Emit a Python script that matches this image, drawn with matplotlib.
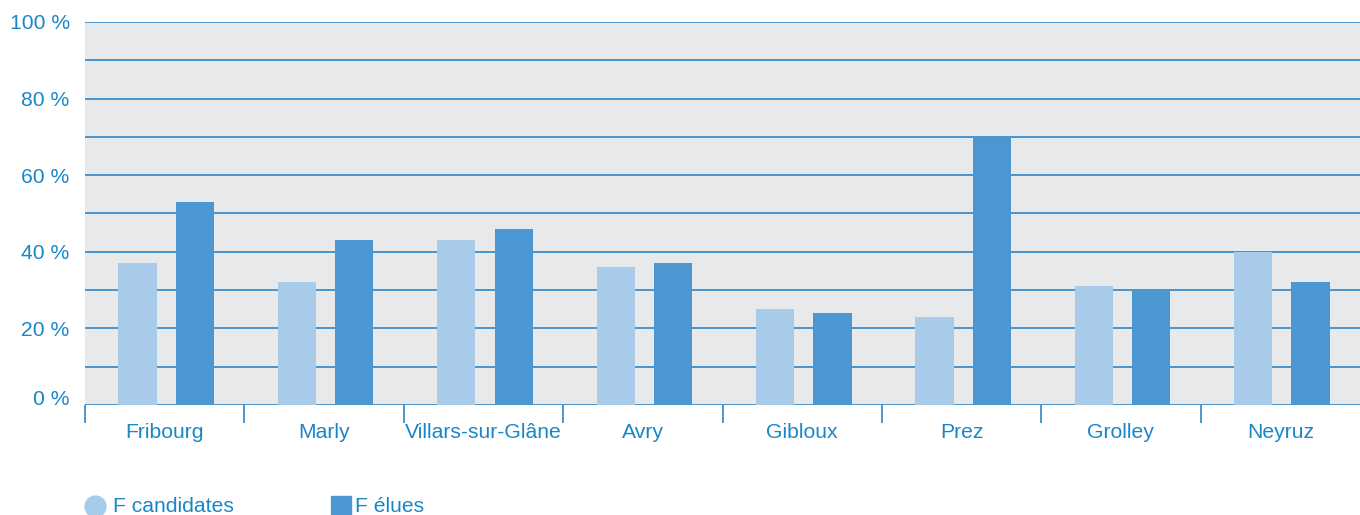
import numpy as np
import matplotlib.pyplot as plt
from matplotlib.lines import Line2D

plt.rcParams['font.family'] = ['Liberation Sans', 'DejaVu Sans']

# Data
communes = ['Fribourg', 'Marly', 'Villars-sur-Glâne', 'Avry', 'Gibloux', 'Prez', 'Grolley', 'Neyruz']
candidates = [37, 32, 43, 36, 25, 23, 31, 40]
elues = [53, 43, 46, 37, 24, 70, 30, 32]
yticks = [0, 20, 40, 60, 80, 100]

txt_color = '#1a86c8'
grid_color = '#2f85c4'
c_light = '#a7cbe8'
c_dark = '#4b97d2'
fs = 15.2

fig = plt.figure(figsize=(13.6, 5.15), dpi=100)
ax = fig.add_axes([0.0625, 0.2136, 0.9375, 0.7437])
ax.set_facecolor('#e8e9eb')

x = np.arange(len(communes)) + 0.5
w = 0.24
ax.bar(x - 0.17, candidates, width=w, color=c_light, zorder=3)
ax.bar(x + 0.19, elues, width=w, color=c_dark, zorder=3)

# horizontal grid lines every 10 %
for g in range(0, 101, 10):
    ax.axhline(g, color=grid_color, lw=1.2, zorder=2)

ax.set_xlim(0, len(communes))
ax.set_ylim(0, 100)
ax.set_yticks(yticks)
ax.set_yticklabels([f'{t} %' for t in yticks])
ax.tick_params(axis='y', length=0, pad=11, labelsize=fs, labelcolor=txt_color)
ax.get_yticklabels()[0].set_verticalalignment('baseline')

ax.set_xticks(np.arange(len(communes)))
ax.set_xticklabels([])
ax.set_xticks(x, minor=True)
ax.set_xticklabels(communes, minor=True)
ax.tick_params(axis='x', which='major', length=13, width=1.2, color=grid_color, direction='out')
ax.tick_params(axis='x', which='minor', length=0, pad=13, labelsize=fs, labelcolor=txt_color)

for s in ax.spines.values():
    s.set_visible(False)

# legend at the bottom
fig.add_artist(Line2D([95 / 1360], [1 - 506 / 515], marker='o', markersize=15,
                      color=c_light, transform=fig.transFigure))
fig.text(113 / 1360, 1 - 506 / 515, 'F candidates', fontsize=fs, color=txt_color, va='center')
fig.add_artist(Line2D([341 / 1360], [1 - 506 / 515], marker='s', markersize=15,
                      color=c_dark, transform=fig.transFigure))
fig.text(355 / 1360, 1 - 506 / 515, 'F élues', fontsize=fs, color=txt_color, va='center')

fig.savefig('out.png', dpi=100)
